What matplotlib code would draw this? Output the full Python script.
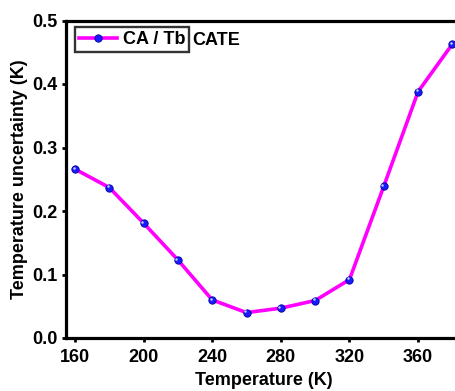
import matplotlib
matplotlib.use("Agg")
import matplotlib.pyplot as plt
from matplotlib.transforms import ScaledTranslation
from matplotlib.lines import Line2D

temperature = [160, 180, 200, 220, 240, 260, 280, 300, 320, 340, 360, 380]
uncertainty = [0.266, 0.237, 0.181, 0.123, 0.060, 0.040, 0.047, 0.059, 0.092, 0.239, 0.388, 0.463]
x_ticks = [160, 200, 240, 280, 320, 360]
y_ticks = [0.0, 0.1, 0.2, 0.3, 0.4, 0.5]

plt.rcParams['font.family'] = ['Liberation Sans', 'DejaVu Sans']
plt.rcParams['font.weight'] = 'bold'
FS = 13

fig = plt.figure(figsize=(4.56, 3.91), dpi=100)
ax = fig.add_axes([66 / 456, 53 / 391, 395 / 456, 317.5 / 391])

line_color = '#ff00ff'
ax.plot(temperature, uncertainty, color=line_color, lw=2.6, zorder=2)
ax.plot(temperature, uncertainty, ls='none', marker='o', ms=5.3,
        mfc='#1a1aff', mec='#0000a0', mew=0.6, zorder=3)
# small specular highlight on each bead
hl = ax.transData + ScaledTranslation(-1.0 / 72, 1.0 / 72, fig.dpi_scale_trans)
ax.plot(temperature, uncertainty, ls='none', marker='o', ms=1.8,
        mfc='#c0d0ff', mec='none', transform=hl, zorder=4)

ax.set_xlim(154.8, 385)
ax.set_ylim(0, 0.5)
ax.set_xticks(x_ticks)
ax.set_yticks(y_ticks)
ax.set_yticklabels([f"{v:.1f}" for v in y_ticks])

for side in ['left', 'bottom', 'top', 'right']:
    ax.spines[side].set_linewidth(2.3)
ax.tick_params(direction='out', length=3.0, width=2.0, labelsize=FS, pad=3)
ax.tick_params(axis='x', pad=5)

ax.set_xlabel('Temperature (K)', fontsize=FS, fontweight='bold', labelpad=4)
ax.set_ylabel('Temperature uncertainty (K)', fontsize=FS, fontweight='bold', labelpad=3)

handle = Line2D([], [], color=line_color, lw=2.6, marker='o', ms=5.3,
                mfc='#1a1aff', mec='#0000a0', mew=0.6)
leg = ax.legend([handle], ['CA / Tb'], loc='upper left', bbox_to_anchor=(0.022, 0.978),
                frameon=True, fancybox=False, handlelength=2.1, handletextpad=0.35,
                borderpad=0.22, borderaxespad=0, prop={'size': FS, 'weight': 'bold'})
leg.get_frame().set_edgecolor('black')
leg.get_frame().set_linewidth(1.7)
ax.text(228.5, 0.469, 'CATE', fontsize=FS, fontweight='bold', va='center', ha='left')

fig.savefig('out.png', dpi=100)
